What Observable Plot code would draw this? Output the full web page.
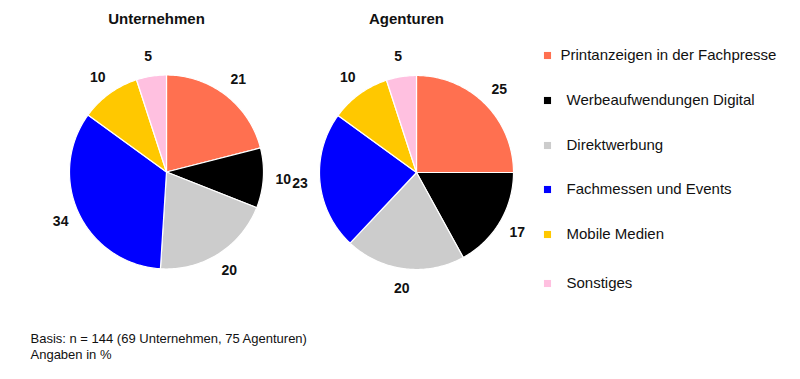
<!DOCTYPE html>
<html><head><meta charset="utf-8">
<script src="https://cdn.jsdelivr.net/npm/d3@7"></script>
<script src="https://cdn.jsdelivr.net/npm/@observablehq/plot@0.6"></script>
<style>body{margin:0;background:#fff;font-family:"Liberation Sans",Arial,sans-serif}</style>
</head><body><div id="chart"></div>
<script>
const categories = ["Printanzeigen in der Fachpresse","Werbeaufwendungen Digital","Direktwerbung","Fachmessen und Events","Mobile Medien","Sonstiges"];
const colors = ["#ff7050","#000000","#cccccc","#0000ff","#ffc800","#ffc0e0"];
const groups = ["Unternehmen","Agenturen"];
const unternehmen = [21,10,20,34,10,5];
const agenturen = [25,17,20,23,10,5];
const footnotes = ["Basis: n = 144 (69 Unternehmen, 75 Agenturen)","Angaben in %"];

// layout
const centers = [[166,171.5],[416,172]];
const R = 97;
const labelR = 117;

const slices = [], labels = [];
[unternehmen, agenturen].forEach((vals, gi) => {
  const [cx, cy] = centers[gi];
  const total = d3.sum(vals);
  let acc = 0;
  vals.forEach((v, i) => {
    const a0 = acc / total * 2 * Math.PI;
    const a1 = (acc + v) / total * 2 * Math.PI;
    acc += v;
    const id = gi + "-" + i;
    slices.push({id, cat: categories[i], x: cx, y: cy});
    const n = Math.max(2, Math.ceil((a1 - a0) / (Math.PI / 180)));
    for (let k = 0; k <= n; k++) {
      const a = a0 + (a1 - a0) * k / n;
      slices.push({id, cat: categories[i], x: cx + R * Math.sin(a), y: cy - R * Math.cos(a)});
    }
    slices.push({id, cat: categories[i], x: cx, y: cy});
    const am = (a0 + a1) / 2;
    labels.push({text: String(v), x: cx + labelR * Math.sin(am), y: cy - labelR * Math.cos(am)});
  });
});

const titles = groups.map((g, i) => ({text: g, x: centers[i][0] - 10, y: 19}));
const legendYs = [55, 100, 145, 189, 234, 283];
const legend = categories.map((c, i) => ({cat: c, y: legendYs[i], tx: i === 0 ? 560 : 566}));
const foot = footnotes.map((t, i) => ({text: t, y: 338 + i * 16}));

const chart = Plot.plot({
  width: 800, height: 379,
  margin: 0,
  x: {domain: [0, 800], range: [0, 800], axis: null},
  y: {domain: [0, 379], range: [0, 379], axis: null},
  color: {domain: categories, range: colors},
  style: {fontFamily: "'Liberation Sans', Arial, sans-serif", background: "#fff"},
  marks: [
    Plot.line(slices, {x: "x", y: "y", z: "id", fill: "cat", stroke: "#fff", strokeWidth: 1.2, curve: "linear-closed"}),
    Plot.text(labels, {x: "x", y: "y", text: "text", fontSize: 14, fontWeight: "bold", fill: "#111"}),
    Plot.text(titles, {x: "x", y: "y", text: "text", fontSize: 15, fontWeight: "bold", fill: "#111"}),
    Plot.dot(legend, {x: 547, y: "y", symbol: "square", r: 4, fill: "cat", stroke: null}),
    Plot.text(legend, {x: "tx", y: "y", text: "cat", textAnchor: "start", fontSize: 15, fill: "#111"}),
    Plot.text(foot, {x: 30, y: "y", text: "text", textAnchor: "start", fontSize: 13, fill: "#111"})
  ]
});
document.getElementById("chart").appendChild(chart);
</script></body></html>
